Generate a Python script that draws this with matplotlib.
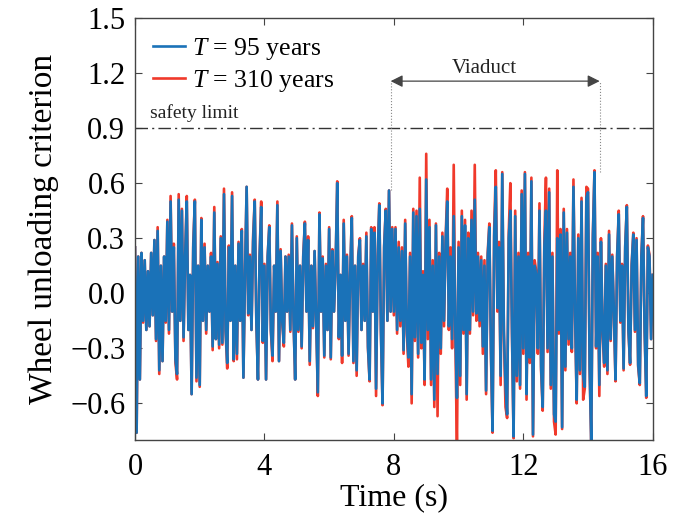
import numpy as np
import matplotlib
matplotlib.use("Agg")
import matplotlib.pyplot as plt
from matplotlib.ticker import FuncFormatter

dt = 0.05

# T = 95 years, one row per second
blue = [
    0.25, -0.76, 0.20, -0.47, 0.22, -0.15, 0.18, -0.20, 0.12, -0.18, 0.22, -0.12, 0.29, -0.25, 0.34, -0.42, 0.15, -0.37, 0.20, -0.15,
    0.39, -0.20, 0.50, -0.10, 0.25, -0.36, -0.44, 0.51, -0.15, 0.45, -0.24, 0.20, 0.50, -0.20, 0.10, -0.55, 0.25, 0.50, -0.46, 0.15,
    -0.50, 0.40, -0.15, 0.25, -0.20, 0.15, -0.10, 0.20, -0.29, 0.44, -0.25, 0.16, -0.28, 0.30, -0.27, 0.54, -0.20, -0.38, 0.25, -0.15,
    0.53, -0.36, 0.15, -0.33, 0.27, -0.15, 0.34, -0.46, 0.10, 0.58, -0.11, 0.20, -0.20, 0.28, 0.50, -0.15, -0.47, 0.20, 0.47, -0.26,
    0.15, -0.47, 0.20, 0.36, -0.20, -0.34, 0.15, -0.10, 0.48, -0.37, 0.23, -0.15, -0.27, 0.20, -0.10, 0.20, -0.20, 0.37, -0.15, -0.47,
    0.30, -0.20, 0.15, -0.29, 0.20, 0.38, -0.10, 0.29, -0.37, 0.15, -0.18, 0.23, -0.15, -0.54, 0.43, -0.10, 0.19, -0.34, 0.15, -0.20,
    0.35, -0.35, 0.23, -0.10, 0.15, 0.60, -0.24, 0.10, -0.34, 0.38, -0.15, 0.20, -0.33, 0.10, 0.41, -0.37, 0.15, -0.42, 0.20, 0.29,
    -0.20, 0.15, -0.15, 0.31, -0.29, -0.47, 0.35, -0.10, 0.33, -0.52, 0.20, 0.48, -0.20, -0.60, 0.25, 0.45, -0.15, 0.56, -0.10, 0.35,
    -0.10, 0.35, -0.20, 0.25, -0.15, 0.23, -0.31, 0.38, -0.20, -0.35, 0.20, -0.55, 0.44, -0.24, 0.42, -0.33, 0.46, -0.27, 0.10, -0.47,
    0.62, -0.20, 0.36, -0.47, 0.15, -0.58, 0.37, -0.44, 0.20, -0.30, 0.31, -0.15, 0.28, 0.50, -0.18, 0.20, -0.25, 0.42, -0.20, -0.57,
    0.25, -0.45, 0.42, -0.20, 0.37, -0.55, 0.30, -0.20, 0.40, -0.10, 0.51, -0.11, 0.20, -0.15, 0.18, -0.29, 0.15, -0.53, 0.20, 0.36,
    -0.30, -0.75, 0.31, 0.58, -0.08, 0.25, -0.45, 0.65, -0.20, -0.50, -0.66, 0.30, 0.45, -0.20, -0.78, 0.42, -0.45, 0.20, -0.50, 0.54,
    -0.30, 0.65, -0.55, 0.20, -0.35, 0.61, -0.77, 0.15, 0.10, -0.30, 0.45, -0.40, -0.62, 0.25, 0.45, -0.30, 0.55, -0.50, 0.20, -0.66,
    -0.70, 0.30, -0.20, 0.32, -0.73, 0.44, -0.40, 0.33, -0.25, 0.20, -0.30, 0.58, -0.10, -0.58, 0.30, -0.42, 0.50, -0.45, -0.51, 0.52,
    0.55, -0.40, -0.82, 0.30, 0.66, -0.29, 0.20, -0.50, 0.28, -0.20, -0.38, 0.15, -0.42, 0.32, -0.25, 0.20, -0.10, -0.47, 0.20, 0.43,
    -0.15, 0.15, -0.41, 0.25, 0.47, -0.20, -0.38, 0.15, 0.32, -0.20, 0.29, -0.39, -0.49, 0.20, 0.41, -0.20, -0.56, 0.25, 0.20, -0.25,
    0.10,
]

# T = 310 years
red = [
    0.25, -0.76, 0.20, -0.47, 0.22, -0.16, 0.18, -0.20, 0.12, -0.18, 0.22, -0.12, 0.29, -0.26, 0.36, -0.44, 0.15, -0.37, 0.20, -0.16,
    0.40, -0.22, 0.53, -0.10, 0.27, -0.38, -0.47, 0.54, -0.15, 0.46, -0.26, 0.20, 0.53, -0.20, 0.10, -0.55, 0.27, 0.51, -0.48, 0.15,
    -0.51, 0.41, -0.15, 0.27, -0.22, 0.15, -0.10, 0.22, -0.31, 0.47, -0.25, 0.17, -0.30, 0.31, -0.28, 0.57, -0.21, -0.41, 0.26, -0.15,
    0.55, -0.37, 0.15, -0.36, 0.28, -0.15, 0.35, -0.46, 0.10, 0.58, -0.12, 0.21, -0.20, 0.31, 0.51, -0.16, -0.47, 0.20, 0.50, -0.27,
    0.16, -0.47, 0.20, 0.37, -0.21, -0.37, 0.15, -0.10, 0.50, -0.37, 0.24, -0.16, -0.29, 0.20, -0.10, 0.21, -0.21, 0.38, -0.15, -0.47,
    0.31, -0.21, 0.15, -0.30, 0.21, 0.39, -0.10, 0.31, -0.39, 0.15, -0.19, 0.23, -0.15, -0.56, 0.44, -0.10, 0.20, -0.35, 0.16, -0.20,
    0.36, -0.36, 0.24, -0.10, 0.15, 0.61, -0.25, 0.10, -0.38, 0.40, -0.15, 0.21, -0.34, 0.10, 0.42, -0.38, 0.15, -0.45, 0.21, 0.30,
    -0.20, 0.16, -0.15, 0.33, -0.30, -0.48, 0.36, -0.10, 0.36, -0.56, 0.21, 0.49, -0.21, -0.61, 0.26, 0.46, -0.15, 0.56, -0.10, 0.36,
    -0.12, 0.36, -0.22, 0.28, -0.18, 0.25, -0.33, 0.40, -0.22, -0.40, 0.22, -0.60, 0.46, -0.26, 0.45, -0.35, 0.63, -0.30, 0.12, -0.50,
    0.76, -0.25, 0.40, -0.50, 0.18, -0.62, 0.38, -0.67, 0.22, -0.33, 0.33, -0.18, 0.30, 0.57, -0.20, 0.25, -0.30, 0.70, -0.25, -0.85,
    0.28, -0.50, 0.45, -0.22, 0.40, -0.58, 0.33, -0.22, 0.45, -0.12, 0.70, -0.15, 0.22, -0.18, 0.20, -0.33, 0.18, -0.55, 0.22, 0.38,
    -0.33, -0.76, 0.35, 0.67, -0.10, 0.28, -0.50, 0.66, -0.22, -0.62, -0.68, 0.33, 0.60, -0.22, -0.79, 0.45, -0.48, 0.22, -0.52, 0.56,
    -0.33, 0.66, -0.58, 0.22, -0.38, 0.63, -0.78, 0.18, 0.12, -0.33, 0.49, -0.42, -0.64, 0.28, 0.63, -0.32, 0.57, -0.52, 0.22, -0.70,
    -0.77, 0.67, -0.22, 0.35, -0.74, 0.46, -0.42, 0.35, -0.28, 0.22, -0.32, 0.62, -0.12, -0.60, 0.32, -0.44, 0.52, -0.58, -0.52, 0.58,
    0.57, -0.42, -0.82, 0.32, 0.67, -0.30, 0.22, -0.56, 0.30, -0.22, -0.40, 0.16, -0.44, 0.34, -0.26, 0.21, -0.11, -0.48, 0.21, 0.45,
    -0.16, 0.16, -0.42, 0.26, 0.48, -0.21, -0.39, 0.16, 0.33, -0.21, 0.30, -0.40, -0.50, 0.21, 0.42, -0.21, -0.57, 0.26, 0.21, -0.25,
    0.10,
]

t = np.arange(len(blue)) * dt

safety = 0.9
viaduct = [7.9, 14.36]
viaduct_tops = [0.56, 0.66]

xticks = [0, 4, 8, 12, 16]
yticks = [-0.6, -0.3, 0.0, 0.3, 0.6, 0.9, 1.2, 1.5]

plt.rcParams['font.family'] = ['Liberation Serif', 'DejaVu Serif']
plt.rcParams['mathtext.fontset'] = 'custom'
plt.rcParams['mathtext.it'] = 'Liberation Serif:italic'
plt.rcParams['mathtext.rm'] = 'Liberation Serif'

fig = plt.figure(figsize=(6.75, 5.22), dpi=100)
ax = fig.add_axes([0.2, 0.157, 0.767, 0.8085])

ax.plot(t, red, color='#f0392b', lw=1.9, label='$T$ = 310 years')
ax.plot(t, blue, color='#1a72b8', lw=1.9, label='$T$ = 95 years')

ax.axhline(safety, color='#333333', lw=1.0, ls=(0, (9, 3, 1.5, 3)))
ax.text(0.45, 0.935, 'safety limit', fontsize=14, color='#222222', va='bottom')

# viaduct span
ax.annotate('', xy=(viaduct[0], 1.156), xytext=(viaduct[1], 1.156),
            arrowprops=dict(arrowstyle='<|-|>', color='#444444', lw=0.9,
                            mutation_scale=18, shrinkA=0, shrinkB=0))
ax.text(10.8, 1.172, 'Viaduct', fontsize=15, ha='center', va='bottom', color='#222222')
for xv, top in zip(viaduct, viaduct_tops):
    ax.plot([xv, xv], [top, 1.156], color='#888888', lw=0.8, ls=':')

ax.set_xlim(0, 16)
ax.set_ylim(-0.8, 1.5)
ax.set_xticks(xticks)
ax.set_yticks(yticks)
ax.yaxis.set_major_formatter(FuncFormatter(lambda v, p: f'{v:.1f}'.replace('-', '\u2212')))
ax.tick_params(direction='in', top=True, right=True, labelsize=22, length=5, color='#444444')
ax.tick_params(axis='x', pad=9)
ax.tick_params(axis='y', pad=7)
for s in ax.spines.values():
    s.set_color('#444444')
    s.set_linewidth(1.0)

ax.set_xlabel('Time (s)', fontsize=23, labelpad=1)
ax.set_ylabel('Wheel unloading criterion', fontsize=24, labelpad=8)

h, l = ax.get_legend_handles_labels()
ax.legend(h[::-1], l[::-1], loc='upper left', frameon=False, fontsize=18.5,
          handlelength=1.25, handletextpad=0.25, labelspacing=0.25,
          borderaxespad=0.3, bbox_to_anchor=(0.0, 1.0))

fig.savefig('out.png', dpi=100)
